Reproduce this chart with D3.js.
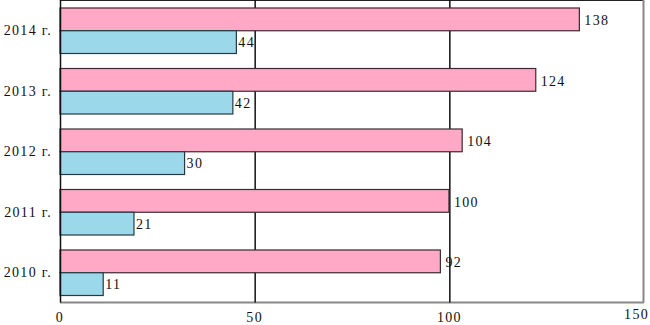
<!DOCTYPE html>
<html>
<head>
<meta charset="utf-8">
<script src="https://cdn.jsdelivr.net/npm/d3@7"></script>
<style>
  body { margin: 0; background: #fff; }
  text { font-family: "Liberation Serif", "DejaVu Serif", serif; font-size: 14px; fill: #111; letter-spacing: 1.3px; }
</style>
</head>
<body>
<svg id="chart"></svg>
<script>
let width = 650;
let height = 325;
let margin = {"top": 0, "bottom": 22, "left": 60, "right": 6};

// years, top to bottom
const years = ["2014 г.", "2013 г.", "2012 г.", "2011 г.", "2010 г."];
// bar lengths as drawn in the picture
const pinkValues = [133.4, 122.2, 103.3, 99.9, 97.7];
const blueValues = [45.3, 44.4, 32.0, 19.0, 11.1];
// numbers printed next to the bars
const pinkLabels = ["138", "124", "104", "100", "92"];
const blueLabels = ["44", "42", "30", "21", "11"];
const xTicks = [0, 50, 100, 150];

let svg = d3.select("#chart")
    .attr("width", width)
    .attr("height", height);

let x = d3.scaleLinear()
    .domain([0, 150])
    .range([margin.left, width - margin.right]);

let y = d3.scaleBand()
    .domain(years)
    .range([margin.top, height - margin.bottom - 0.5]);

let bandPad = 8;
let barH = (y.bandwidth() - 2 * bandPad + 1) / 2;

// frame
svg.append("line")
    .attr("x1", x(0)).attr("x2", x(150))
    .attr("y1", 0.5).attr("y2", 0.5)
    .style("stroke", "#222");
svg.append("line")
    .attr("x1", x(150) - 0.5).attr("x2", x(150) - 0.5)
    .attr("y1", 0).attr("y2", y.range()[1])
    .style("stroke", "#888").style("stroke-width", 2);
svg.append("line")
    .attr("x1", x(0)).attr("x2", x(150))
    .attr("y1", y.range()[1]).attr("y2", y.range()[1])
    .style("stroke", "#888").style("stroke-width", 2);

// grid lines
svg.selectAll("line.grid")
    .data([50, 100])
    .enter().append("line")
    .attr("class", "grid")
    .attr("x1", (d) => x(d) + 0.5).attr("x2", (d) => x(d) + 0.5)
    .attr("y1", 0).attr("y2", y.range()[1])
    .style("stroke", "#111").style("stroke-width", 1.5);

let rows = years.map((yr, i) => ({year: yr, pink: pinkValues[i], blue: blueValues[i], pl: pinkLabels[i], bl: blueLabels[i]}));

let g = svg.selectAll("g.row")
    .data(rows)
    .enter().append("g")
    .attr("class", "row");

g.append("rect")
    .attr("x", x(0))
    .attr("y", (d) => y(d.year) + bandPad)
    .attr("width", (d) => x(d.pink) - x(0))
    .attr("height", barH)
    .style("fill", "#FFA9C6")
    .style("stroke", "#3a2a30")
    .style("stroke-width", 1.2);

g.append("rect")
    .attr("x", x(0))
    .attr("y", (d) => y(d.year) + bandPad + barH)
    .attr("width", (d) => x(d.blue) - x(0))
    .attr("height", barH)
    .style("fill", "#9BD9EA")
    .style("stroke", "#243a44")
    .style("stroke-width", 1.2);

g.append("text")
    .attr("x", (d) => x(d.pink) + 5)
    .attr("y", (d) => y(d.year) + bandPad + barH / 2 + 1)
    .attr("dy", "0.35em")
    .text((d) => d.pl);

g.append("text")
    .attr("x", (d) => x(d.blue) + 2)
    .attr("y", (d) => y(d.year) + bandPad + barH * 1.5)
    .attr("dy", "0.35em")
    .text((d) => d.bl);

// left axis
svg.append("line")
    .attr("x1", x(0) + 0.5).attr("x2", x(0) + 0.5)
    .attr("y1", 0).attr("y2", y.range()[1])
    .style("stroke", "#111").style("stroke-width", 1.5);

g.append("text")
    .attr("x", x(0) - 8)
    .attr("y", (d) => y(d.year) + y.bandwidth() / 2)
    .attr("dy", "0.35em")
    .attr("text-anchor", "end")
    .text((d) => d.year);

// bottom tick labels
svg.selectAll("text.tick")
    .data(xTicks)
    .enter().append("text")
    .attr("class", "tick")
    .attr("x", (d) => d == 150 ? width - 1 : x(d))
    .attr("y", (d) => d == 150 ? 319 : 322)
    .attr("text-anchor", (d) => d == 150 ? "end" : "middle")
    .text((d) => d);
</script>
</body>
</html>
